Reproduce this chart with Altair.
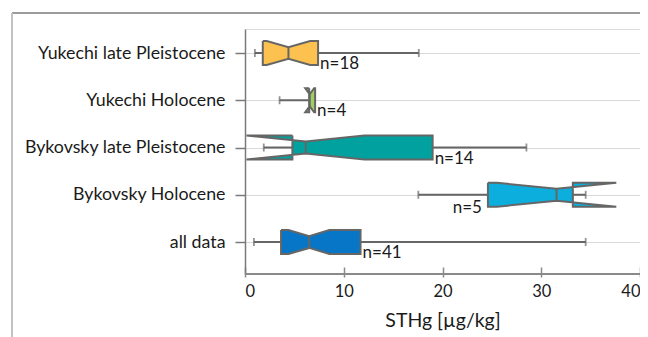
import json
import altair as alt
import pandas as pd

# ---- data ----
groups = ["Yukechi late Pleistocene", "Yukechi Holocene", "Bykovsky late Pleistocene",
          "Bykovsky Holocene", "all data"]
whisker_lo = [1.0, 3.5, 1.9, 17.55, 0.9]
q1 = [1.8, 6.5, 4.8, 24.6, 3.65]
notch_lo = [2.2, 6.1, 0.15, 25.5, 4.4]
median = [4.4, 6.55, 6.15, 31.55, 6.5]
notch_hi = [6.6, 7.0, 12.1, 37.6, 8.55]
q3 = [7.4, 7.1, 19.0, 33.2, 11.7]
whisker_hi = [17.6, 7.1, 28.5, 34.5, 34.5]
counts = [18, 4, 14, 5, 41]
label_side = ["right", "right", "right", "left", "right"]
colors = ["#FCC14F", "#A2CE60", "#00A19E", "#0BAEDC", "#0776C6"]
x_ticks = [0, 10, 20, 30, 40]

# ---- style constants ----
BOX = 0.254     # half box height (in row units)
NOTCH = 0.125   # half height at the median
W, H = 395, 245
FONT = "Lato"
GRAY = "#666666"

# ---- derived tables: notched-box outline (top edge forward, bottom edge back) ----
poly = []
for i, g in enumerate(groups):
    xs = [q1[i], notch_lo[i], median[i], notch_hi[i], q3[i]]
    hs = [BOX, BOX, NOTCH, BOX, BOX]
    pts = [(xv, i - hv) for xv, hv in zip(xs, hs)]
    pts += [(xv, i + hv) for xv, hv in reversed(list(zip(xs, hs)))]
    pts.append(pts[0])
    for k, (xv, yv) in enumerate(pts):
        poly.append({"g": g, "k": k, "x": xv, "y": yv, "col": colors[i]})
poly = pd.DataFrame(poly)

wh = []
caps = []
for i, g in enumerate(groups):
    wh.append({"g": g, "a": whisker_lo[i], "b": q1[i], "y": i})
    caps.append({"g": g, "x": whisker_lo[i], "y": i})
    if whisker_hi[i] > q3[i]:
        wh.append({"g": g, "a": q3[i], "b": whisker_hi[i], "y": i})
        caps.append({"g": g, "x": whisker_hi[i], "y": i})
wh = pd.DataFrame(wh)
caps = pd.DataFrame(caps)

med = pd.DataFrame({"g": groups, "x": median,
                    "ya": [i - NOTCH for i in range(len(groups))],
                    "yb": [i + NOTCH for i in range(len(groups))]})

lab = pd.DataFrame({"g": groups, "y": list(range(len(groups))),
                    "x": [q3[i] if label_side[i] == "right" else q1[i] for i in range(len(groups))],
                    "side": label_side,
                    "t": ["n=%d" % c for c in counts]})

xscale = alt.Scale(domain=[0, 40], nice=False, zero=False)
yscale = alt.Scale(domain=[-0.508, 4.677], reverse=True, nice=False, zero=False)

label_expr = json.dumps(groups) + "[round(datum.value)]"
xaxis = alt.Axis(values=x_ticks, title="STHg [µg/kg]", grid=False, domain=False,
                 offset=-7, tickSize=10, tickColor="#8a8a8a", tickWidth=1.5,
                 labelPadding=6, labelFontSize=16.5, labelFont=FONT, labelColor="#1a1a1a",
                 titleFontSize=19.5, titleFont=FONT, titleFontWeight="normal",
                 titleColor="#1a1a1a", titlePadding=12)
yaxis = alt.Axis(values=list(range(len(groups))), labelExpr=label_expr, title=None,
                 grid=True, gridColor="#d9d9d9", gridWidth=1,
                 domainColor="#7a7a7a", domainWidth=1.5,
                 tickSize=10, tickColor="#7a7a7a", tickWidth=1.5, labelLimit=400,
                 labelPadding=10, labelFontSize=17.8, labelFont=FONT, labelColor="#1a1a1a")

base_x = lambda f: alt.X(f, scale=xscale, axis=xaxis)
base_y = lambda f: alt.Y(f, scale=yscale, axis=yaxis, stack=None)

whiskers = alt.Chart(wh).mark_rule(color=GRAY, strokeWidth=2).encode(
    x=base_x("a:Q"), x2="b:Q", y=base_y("y:Q"))

capm = alt.Chart(caps).mark_tick(orient="vertical", color=GRAY, size=8, thickness=1.8).encode(
    x=base_x("x:Q"), y=base_y("y:Q"))

boxes = alt.Chart(poly).mark_line(strokeWidth=2, interpolate="linear", strokeJoin="miter").encode(
    x=base_x("x:Q"), y=base_y("y:Q"),
    order=alt.Order("k:Q"), detail="g:N",
    fill=alt.Fill("col:N", scale=None),
    stroke=alt.value(GRAY))

medians = alt.Chart(med).mark_rule(color=GRAY, strokeWidth=2).encode(
    x=base_x("x:Q"), y=base_y("ya:Q"), y2="yb:Q")

text_r = alt.Chart(lab).transform_filter(alt.datum.side == "right").mark_text(
    align="left", baseline="alphabetic", dx=2, dy=16, fontSize=17, font=FONT, color="#1a1a1a").encode(
    x=base_x("x:Q"), y=base_y("y:Q"), text="t:N")
text_l = alt.Chart(lab).transform_filter(alt.datum.side == "left").mark_text(
    align="right", baseline="alphabetic", dx=-6, dy=18, fontSize=17, font=FONT, color="#1a1a1a").encode(
    x=base_x("x:Q"), y=base_y("y:Q"), text="t:N")

xline = alt.Chart(lab).mark_rule(color="#8a8a8a", strokeWidth=1.5).encode(
    x=alt.value(0), x2=alt.value(W), y=alt.value(H))

frame_top = alt.Chart(lab).mark_rule(color="#9b9b9b", strokeWidth=2).encode(
    x=alt.value(-233), x2=alt.value(W + 20), y=alt.value(-16))
frame_left = alt.Chart(lab).mark_rule(color="#c2c2c2", strokeWidth=2).encode(
    x=alt.value(-233), y=alt.value(-16), y2=alt.value(H + 70))

chart = alt.layer(whiskers, capm, boxes, medians, text_r, text_l, xline, frame_top, frame_left).properties(
    width=W, height=H,
    autosize=alt.AutoSizeParams(type="none"),
    padding={"left": 237, "top": 21, "right": 0, "bottom": 63},
).configure_view(stroke=None).configure(background="white")

chart.save("out.html", embed_options={"renderer": "svg", "actions": False})
